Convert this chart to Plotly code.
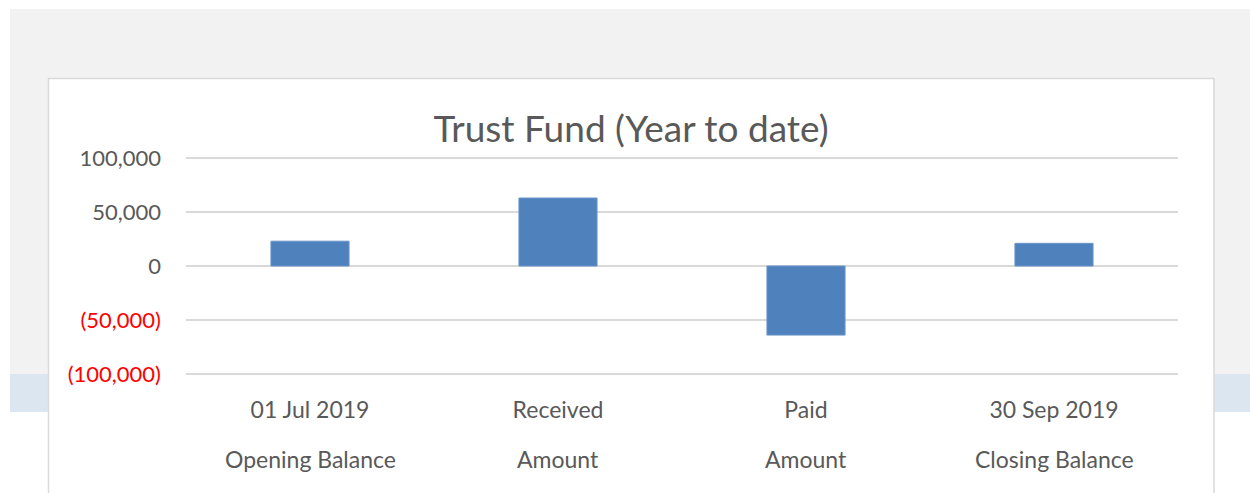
import plotly.graph_objects as go

# ---- data ----
categories = ["Opening Balance", "Received Amount", "Paid Amount", "Closing Balance"]
label_line1 = ["01 Jul 2019", "Received", "Paid", "30 Sep 2019"]
label_line2 = ["Opening Balance", "Amount", "Amount", "Closing Balance"]
values = [23000, 63000, -64000, 21000]
y_tickvals = [100000, 50000, 0, -50000, -100000]
y_ticktext = ["100,000", "50,000", "0",
              "<span style='color:#FF0000'>(50,000)</span>",
              "<span style='color:#FF0000'>(100,000)</span>"]
title_text = "Trust Fund (Year to date)"

W, H = 1250, 493
L, R, T, B = 186, 1178, 157, 375  # plot area in pixels (range padded slightly)


def px(x):
    return (x - L) / (R - L)


def py(y):
    return (B - y) / (B - T)


FONT = "Lato, 'Open Sans', sans-serif"
GREY = "#595959"

fig = go.Figure()
fig.add_trace(go.Bar(
    x=categories, y=values,
    marker=dict(color="#4f81bd", line=dict(color="#6a95c9", width=1)),
    width=0.315,
))

shapes = [
    # grey page background
    dict(type="rect", xref="paper", yref="paper", x0=px(10), x1=px(1252),
         y0=py(374), y1=py(9), fillcolor="#f2f2f2", line=dict(width=0), layer="below"),
    # light blue band
    dict(type="rect", xref="paper", yref="paper", x0=px(10), x1=px(1252),
         y0=py(412), y1=py(374), fillcolor="#dce6f1", line=dict(width=0), layer="below"),
    # white chart box
    dict(type="rect", xref="paper", yref="paper", x0=px(48.5), x1=px(1214),
         y0=py(520), y1=py(78.5), fillcolor="white",
         line=dict(color="#d9d9d9", width=1.5), layer="below"),
]

annotations = [
    dict(x=c, y=py(459), xref="x", yref="paper", text=t, showarrow=False,
         xanchor="center", yanchor="middle",
         font=dict(family=FONT, size=23, color=GREY))
    for c, t in zip(categories, label_line2)
]

fig.update_layout(
    width=W, height=H,
    margin=dict(l=L, r=W - R, t=T, b=H - B, pad=0),
    paper_bgcolor="white",
    plot_bgcolor="rgba(0,0,0,0)",
    showlegend=False,
    shapes=shapes,
    annotations=annotations,
    title=dict(text=title_text, x=631 / W, xanchor="center",
               y=1 - 129 / H, yanchor="middle", yref="container",
               font=dict(family=FONT, size=37, color=GREY)),
    xaxis=dict(
        tickmode="array", tickvals=categories, ticktext=label_line1,
        tickfont=dict(family=FONT, size=23, color=GREY),
        showgrid=False, zeroline=False, showline=False, ticks="",
        ticklabelstandoff=19,
    ),
    yaxis=dict(
        range=[-101000, 101000], tickmode="array",
        tickvals=y_tickvals, ticktext=y_ticktext,
        tickfont=dict(family=FONT, size=22, color=GREY),
        showgrid=True, gridcolor="#d9d9d9", gridwidth=1.5,
        zeroline=True, zerolinecolor="#d9d9d9", zerolinewidth=1.5,
        showline=False, ticks="", ticklabelstandoff=24,
    ),
    bargap=0.685,
)

fig.write_html("out.html",
               config={"displayModeBar": False},
               post_script="document.body.style.margin='0px';document.body.style.overflow='hidden';")
